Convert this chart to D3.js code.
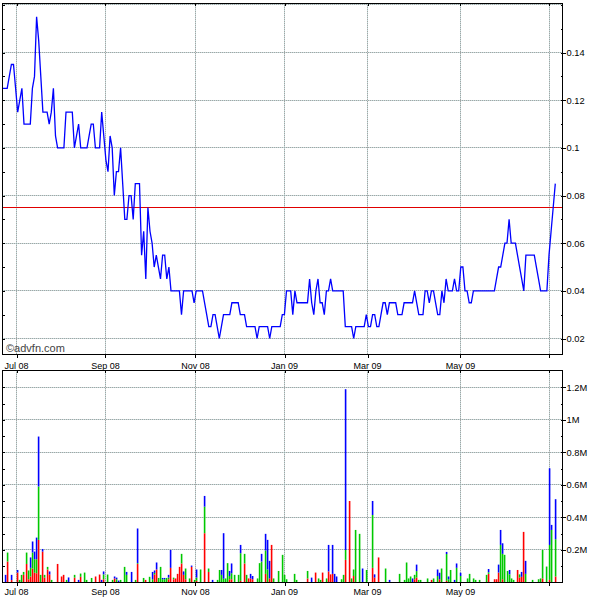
<!DOCTYPE html>
<html><head><meta charset="utf-8">
<script src="https://cdn.jsdelivr.net/npm/d3@7"></script>
<style>body{margin:0;background:#fff}svg{display:block}text{font-family:"Liberation Sans",Arial,sans-serif}</style>
</head><body><svg id="c" width="600" height="600"></svg>
<script>
// ---- data (trading-day index based) ----
const price = [
.125,.125,.125,.13,.135,.135,.125,.115,.12,.125,
.11,.11,.11,.11,.125,.13,.155,.145,.13,.115,
.115,.115,.11,.115,.125,.105,.1,.1,.1,.1,
.115,.115,.115,.115,.1,.105,.11,.1,.1,.1,
.1,.105,.11,.11,.1,.1,.1,.115,.105,.095,
.09,.105,.1,.08,.09,.09,.1,.085,.07,.07,
.08,.08,.07,.085,.085,.085,.055,.065,.045,.075,
.065,.06,.05,.055,.05,.045,.055,.055,.045,.05,
.04,.04,.04,.04,.04,.03,.04,.04,.04,.04,
.04,.035,.04,.04,.04,.04,.035,.03,.025,.025,
.03,.03,.025,.02,.025,.03,.03,.03,.03,.035,
.035,.035,.035,.03,.03,.03,.025,.025,.025,.025,
.025,.02,.025,.025,.025,.025,.025,.02,.025,.025,
.025,.025,.025,.03,.03,.04,.04,.04,.03,.04,
.035,.035,.035,.035,.035,.035,.045,.035,.03,.04,
.045,.035,.035,.03,.04,.04,.045,.04,.04,.04,
.04,.04,.04,.025,.025,.025,.025,.02,.025,.025,
.025,.025,.025,.03,.025,.025,.03,.03,.025,.025,
.03,.035,.035,.03,.035,.035,.035,.035,.03,.03,
.03,.035,.035,.035,.035,.035,.04,.035,.03,.03,
.03,.04,.04,.035,.04,.04,.035,.03,.03,.04,
.035,.045,.04,.04,.04,.045,.04,.04,.05,.05,
.04,.04,.035,.035,.04,.04,.04,.04,.04,.04,
.04,.04,.04,.04,.04,.045,.05,.05,.055,.06,
.06,.07,.06,.06,.06,.055,.05,.045,.04,.055,
.055,.055,.055,.055,.05,.045,.04,.04,.04,.04,
.055,.065,.075,.085];

const monthLabels = ["Jul 08","Sep 08","Nov 08","Jan 09","Mar 09","May 09",""];
const monthPos = [6.5,48.7,91.6,134.1,173.7,217.8,260.1];
const priceTicks = [0.02,0.04,0.06,0.08,0.1,0.12,0.14];
const priceGrid = [0.02,0.04,0.06,0.08,0.1,0.12,0.14,0.16];
const priceMinor = [0.02,0.03,0.04,0.05,0.06,0.07,0.08,0.09,0.1,0.11,0.12,0.13,0.14,0.15,0.16];
const volTicks = [200000,400000,600000,800000,1000000,1200000];
const volMinor = [100000,200000,300000,400000,500000,600000,700000,800000,900000,1000000,1100000,1200000];
const refPrice = 0.075;

// volume (thousands): day index, red, green, blue stacked
const volDay = [1,2,4,7,8,9,10,11,12,13,14,15,16,17,18,19,20,21,22,23,26,28,29,30,31,34,36,37,39,40,42,44,46,47,48,50,52,53,54,55,56,58,59,61,63,64,67,68,70,71,72,73,74,75,76,77,78,79,80,81,82,83,84,85,86,87,89,90,91,92,94,96,98,100,102,103,104,105,106,107,108,109,110,112,113,115,116,117,118,119,121,122,123,125,126,127,128,129,131,133,134,135,139,140,145,147,149,150,151,152,154,155,156,157,158,159,161,162,163,165,166,167,168,170,171,173,176,177,179,182,184,189,191,192,193,194,195,196,197,198,199,202,204,205,207,208,209,211,212,213,215,216,218,221,222,224,225,227,230,231,234,235,236,237,238,239,240,241,242,243,245,246,247,248,249,252,255,256,257,259,260,261,263];
const volRed   = [0,129,15,61,0,0,47,114,20,37,86,60,57,262,0,190,30,80,49,0,114,37,47,0,0,30,0,35,0,0,0,37,49,0,20,0,0,25,0,0,0,0,0,0,0,114,0,16,0,0,49,80,0,0,0,0,0,20,90,20,25,53,96,117,47,20,0,96,0,10,0,303,65,0,0,0,0,0,0,0,20,20,0,0,10,117,0,25,25,20,0,0,0,53,0,25,231,0,0,0,0,0,0,0,25,0,61,0,0,61,0,68,50,53,0,0,0,0,139,501,0,40,0,0,0,0,90,30,154,0,0,0,0,0,0,0,0,20,30,0,0,0,16,0,0,20,0,10,0,0,0,0,0,0,0,0,0,0,0,53,20,20,61,0,20,0,0,0,0,0,77,30,35,311,0,0,0,0,25,0,16,0,37];
const volGreen = [0,55,0,0,16,47,18,70,54,53,98,83,86,328,47,0,17,16,0,16,0,0,0,16,0,17,0,20,61,16,28,0,0,0,30,49,16,0,20,0,16,96,47,0,16,5,28,0,35,20,10,0,28,96,20,20,28,10,0,10,0,0,0,59,0,66,25,0,16,20,80,163,21,0,16,77,47,23,25,119,20,37,47,47,170,59,47,0,0,0,25,119,129,144,80,0,0,25,71,170,47,20,53,16,46,0,0,25,16,0,25,0,0,0,0,0,20,47,61,0,25,40,323,299,0,77,325,0,0,86,0,53,16,123,25,37,0,27,40,16,16,25,0,25,40,0,86,165,20,77,0,90,40,25,53,25,16,16,47,10,0,0,0,231,156,170,71,50,25,16,0,20,0,0,53,16,20,25,175,98,215,323,229];
const volBlue  = [47,0,32,16,0,0,0,0,0,64,68,47,133,307,0,16,0,0,19,0,0,0,0,0,31,0,16,0,0,0,0,0,0,16,18,0,0,12,10,12,0,0,18,65,0,213,0,0,0,45,15,43,0,0,8,8,0,17,110,0,0,0,0,0,21,0,0,8,0,50,0,66,0,16,0,0,30,280,0,0,31,60,0,0,51,0,0,0,28,20,0,0,47,102,182,108,0,0,0,0,0,0,0,0,0,30,0,0,0,0,0,163,0,178,53,37,0,0,988,0,0,0,0,0,86,0,86,20,0,0,16,0,0,0,0,0,25,0,40,0,0,0,0,0,40,40,0,13,17,0,16,27,20,0,0,0,0,0,0,20,0,0,49,92,65,0,0,27,0,0,0,0,30,0,80,0,0,0,0,0,471,31,246];

// ---- layout ----
const svg = d3.select("#c");
const L = 2, R = 562;
const x = d3.scaleLinear().domain([0, price.length - 1]).range([3, 555.3]);
const yP = d3.scaleLinear().domain([0.0135, 0.1608]).range([354, 3]);
const yV = d3.scaleLinear().domain([0, 1306000]).range([582.5, 370]);
const px = v => Math.floor(v) + 0.5;

function grid(g, y0, y1, hVals, yS) {
  const draw = (sel, color, dash) => {
    sel.selectAll(null).data(hVals).join("line")
      .attr("x1", L).attr("x2", R).attr("y1", d => px(yS(d))).attr("y2", d => px(yS(d)))
      .attr("stroke", color).attr("stroke-dasharray", dash);
    sel.selectAll(null).data(monthPos).join("line")
      .attr("x1", d => px(x(d))).attr("x2", d => px(x(d))).attr("y1", y0).attr("y2", y1)
      .attr("stroke", color).attr("stroke-dasharray", dash);
  };
  draw(g.append("g"), "#c4dcdc", null);
  draw(g.append("g"), "#a4a4a4", "1,1");
}

// price panel
const gp = svg.append("g").attr("shape-rendering", "crispEdges");
grid(gp, 3, 354, priceGrid, yP);
gp.append("line").attr("x1", L).attr("x2", R).attr("y1", px(yP(refPrice))).attr("y2", px(yP(refPrice)))
  .attr("stroke", "#e00000");

svg.append("path").datum(price)
  .attr("fill", "none").attr("stroke", "#0000ff").attr("stroke-width", 1.3)
  .attr("stroke-linejoin", "miter")
  .attr("d", d3.line().x((d, i) => x(i)).y(d => yP(d)));

svg.append("text").attr("x", 6).attr("y", 351.5).attr("font-size", 11).attr("fill", "#444")
  .text("©advfn.com");

// volume panel
const gv = svg.append("g").attr("shape-rendering", "crispEdges");
grid(gv, 370, 582.5, volTicks, yV);
const bars = volDay.map((d, k) => ({d, r: volRed[k] * 1000, g: volGreen[k] * 1000, b: volBlue[k] * 1000}));
const segs = [];
bars.forEach(o => {
  let base = 0;
  [["r", "#ff0000"], ["g", "#00c800"], ["b", "#0000ff"]].forEach(([k, c]) => {
    if (o[k] > 0) { segs.push({d: o.d, y0: base, y1: base + o[k], c}); base += o[k]; }
  });
});
svg.append("g").selectAll("rect").data(segs).join("rect")
  .attr("x", s => Math.floor(x(s.d)) - 0.2).attr("width", 1.6)
  .attr("y", s => yV(s.y1)).attr("height", s => yV(s.y0) - yV(s.y1))
  .style("fill", s => s.c);

// frames & axes
function frame(top, bottom, yS, ticks, minor, fmt) {
  const g = svg.append("g").attr("shape-rendering", "crispEdges");
  g.append("rect").attr("x", L + 0.5).attr("y", top + 0.5).attr("width", R - L).attr("height", bottom - top)
    .attr("fill", "none").attr("stroke", "#000");
  const ax = d3.axisRight(yS).tickValues(ticks).tickSize(3).tickPadding(1).tickFormat(fmt);
  const ga = g.append("g").attr("transform", `translate(${R + 0.5},0)`).call(ax);
  ga.select(".domain").remove();
  ga.selectAll("text").attr("font-size", 9.3).attr("font-family", '"Liberation Sans",Arial,sans-serif').attr("fill", "#000");
  const am = d3.axisLeft(yS).tickValues(minor).tickSize(2).tickFormat("");
  const gm = g.append("g").attr("transform", `translate(${R + 0.5},0)`).call(am);
  gm.select(".domain").remove();
  const al = d3.axisRight(yS).tickValues(minor).tickSize(2).tickFormat("");
  const gl = g.append("g").attr("transform", `translate(${L + 0.5},0)`).call(al);
  gl.select(".domain").remove();
  const ab = d3.axisBottom(x).tickValues(monthPos).tickSize(3).tickFormat("");
  const gb = g.append("g").attr("transform", `translate(0,${bottom + 0.5})`).call(ab);
  gb.select(".domain").remove();
  const at = d3.axisBottom(x).tickValues(monthPos).tickSize(2).tickFormat("");
  const gt = g.append("g").attr("transform", `translate(0,${top + 0.5})`).call(at);
  gt.select(".domain").remove();
}
frame(3, 354, yP, priceTicks, priceMinor, d => String(+d.toFixed(2)));
frame(370, 582, yV, volTicks, volMinor, d => String(+(d / 1e6).toFixed(1)) + "M");

// month labels (between panels and under volume)
[368.5, 594.5].forEach(yb => {
  svg.append("g").selectAll("text").data(monthPos.map((p, k) => ({p, t: monthLabels[k]})).filter(o => o.t))
    .join("text")
    .attr("x", o => px(x(o.p))).attr("y", yb).attr("text-anchor", "middle")
    .attr("font-size", 9).attr("fill", "#000").text(o => o.t);
});
</script>
</body></html>
